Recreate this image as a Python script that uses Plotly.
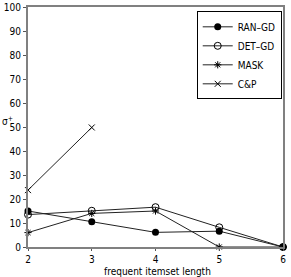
import plotly.graph_objects as go

x_len = [2, 3, 4, 5, 6]
ran_gd = [15, 10.5, 6.1, 6.6, 0]
det_gd = [13.5, 15.1, 16.6, 8.2, 0]
mask = [6, 14, 15, 0, 0]
cp_x = [2, 3]
cp = [23.7, 49.8]
x_ticks = [2, 3, 4, 5, 6]
y_ticks = list(range(0, 101, 10))

fig = go.Figure()
line = dict(color="#222222", width=1)
fig.add_trace(go.Scatter(x=x_len, y=ran_gd, name="RAN\u2013GD", mode="lines+markers",
                         line=line, marker=dict(symbol="circle", size=7, color="black")))
fig.add_trace(go.Scatter(x=x_len, y=det_gd, name="DET\u2013GD", mode="lines+markers",
                         line=line, marker=dict(symbol="circle-open", size=7, color="black", line=dict(width=1))))
fig.add_trace(go.Scatter(x=x_len, y=mask, name="MASK", mode="lines+markers",
                         line=line, marker=dict(symbol="asterisk-open", size=6, color="black", line=dict(width=1, color="black"))))
fig.add_trace(go.Scatter(x=cp_x, y=cp, name="C&P", mode="lines+markers",
                         line=line, marker=dict(symbol="x-thin-open", size=6, color="black", line=dict(width=1, color="black"))))

font = dict(family="DejaVu Sans Condensed, Liberation Sans", size=10, color="black")
fig.update_layout(
    width=291, height=277,
    margin=dict(l=28, r=8, t=7, b=30),
    paper_bgcolor="white", plot_bgcolor="white",
    font=font,
    showlegend=True,
    legend=dict(x=0.995, y=0.982, xanchor="right", yanchor="top", bordercolor="black", borderwidth=1,
                bgcolor="white", font=dict(size=10), tracegroupgap=0, itemsizing="trace", itemwidth=30),
    xaxis=dict(range=[2, 6], tickvals=x_ticks, showline=True, linecolor="#808080", linewidth=2,
               mirror=True, ticks="outside", ticklen=2, tickcolor="#555555", showgrid=False, zeroline=False,
               automargin=False),
    yaxis=dict(range=[0, 100], tickvals=y_ticks, showline=True, linecolor="#808080", linewidth=2,
               mirror=True, ticks="outside", ticklen=3, tickcolor="#555555", showgrid=False, zeroline=False,
               automargin=False),
    annotations=[
        dict(text="frequent itemset length", xref="paper", yref="paper", x=0.506, y=-0.103,
             xanchor="center", yanchor="middle", showarrow=False, font=dict(size=10)),
        dict(text="\u03c3<sup>+</sup>", xref="paper", yref="paper", x=-0.108, y=0.525,
             xanchor="left", yanchor="middle", showarrow=False, font=dict(size=10)),
    ],
)
for tr in fig.data:
    tr.cliponaxis = False
fig.write_html("out.html", config={"displayModeBar": False},
               post_script="document.body.style.margin='0px';")
